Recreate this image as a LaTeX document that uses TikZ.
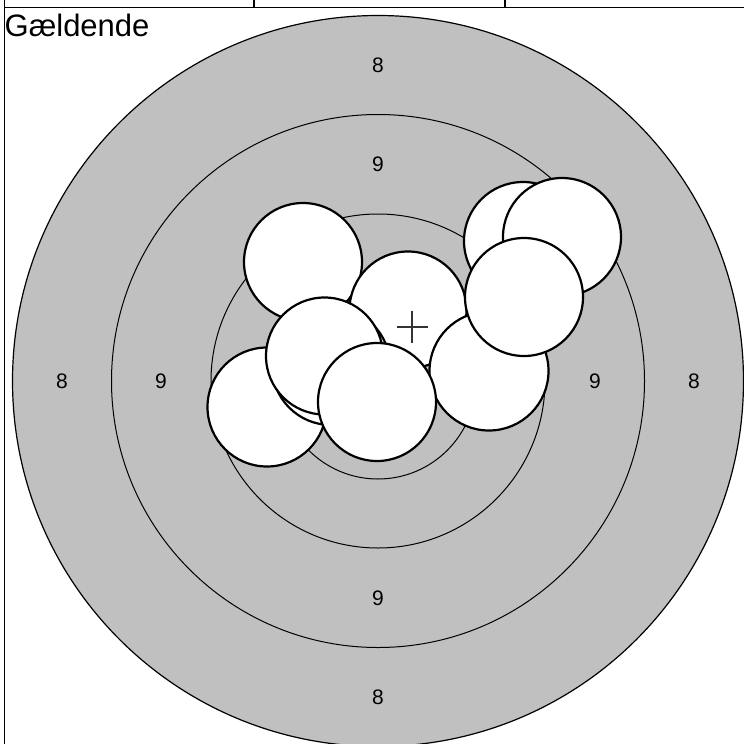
\documentclass[tikz,border=0pt]{standalone}
\usepackage{fontspec}
\setmainfont{Liberation Sans}
\begin{document}
\begin{tikzpicture}[x=1pt,y=-1pt,
  ringline/.style={line width=1pt,black},
  shot/.style={draw=black,fill=white,line width=2.2pt},
  framel/.style={line width=1.6pt,black},
  lbl/.style={inner sep=0pt,font=\fontsize{21}{21}\selectfont}]
\useasboundingbox (0,0) rectangle (744,744);
\definecolor{ringgray}{gray}{0.753}
% frame
\draw[framel] (4.3,0) -- (4.3,744);
\draw[framel] (4.3,7.3) -- (744,7.3);
\draw[framel] (254,0) -- (254,7.3);
\draw[framel] (505,0) -- (505,7.3);
\node[anchor=base west,inner sep=0pt,font=\fontsize{31}{31}\selectfont] (title) at (4.5,36) {Gældende};
% target
\coordinate (c) at (378,381);
\fill[ringgray] (c) circle (365.5);
\draw[line width=1.2pt] (c) circle (365.5);
\draw[ringline] (c) circle (266.5);
\draw[ringline] (c) circle (167);
\draw[ringline] (c) circle (98);
% labels
\node[lbl] (l8t) at (378,65) {8};
\node[lbl] (l8b) at (378,697) {8};
\node[lbl] (l8l) at (62,381) {8};
\node[lbl] (l8r) at (694,381) {8};
\node[lbl] (l9t) at (378,164) {9};
\node[lbl] (l9b) at (378,598) {9};
\node[lbl] (l9l) at (161,381) {9};
\node[lbl] (l9r) at (595,381) {9};
% shots
\filldraw[shot] (303,262) circle (59);
\filldraw[shot] (408,310) circle (58.5);
\filldraw[shot] (523,241) circle (59);
\filldraw[shot] (562,237) circle (59);
\filldraw[shot] (489,371) circle (59.5);
\filldraw[shot] (524,297) circle (59);
\filldraw[shot] (267,407) circle (59.5);
\filldraw[shot] (331,366) circle (59);
\filldraw[shot] (324.5,356) circle (58.5);
\filldraw[shot] (377,402) circle (59);
% cross
\draw[line width=1.3pt,black!80] (396.5,327) -- (427.5,327);
\draw[line width=1.3pt,black!80] (412,311) -- (412,343);
\end{tikzpicture}
\end{document}
